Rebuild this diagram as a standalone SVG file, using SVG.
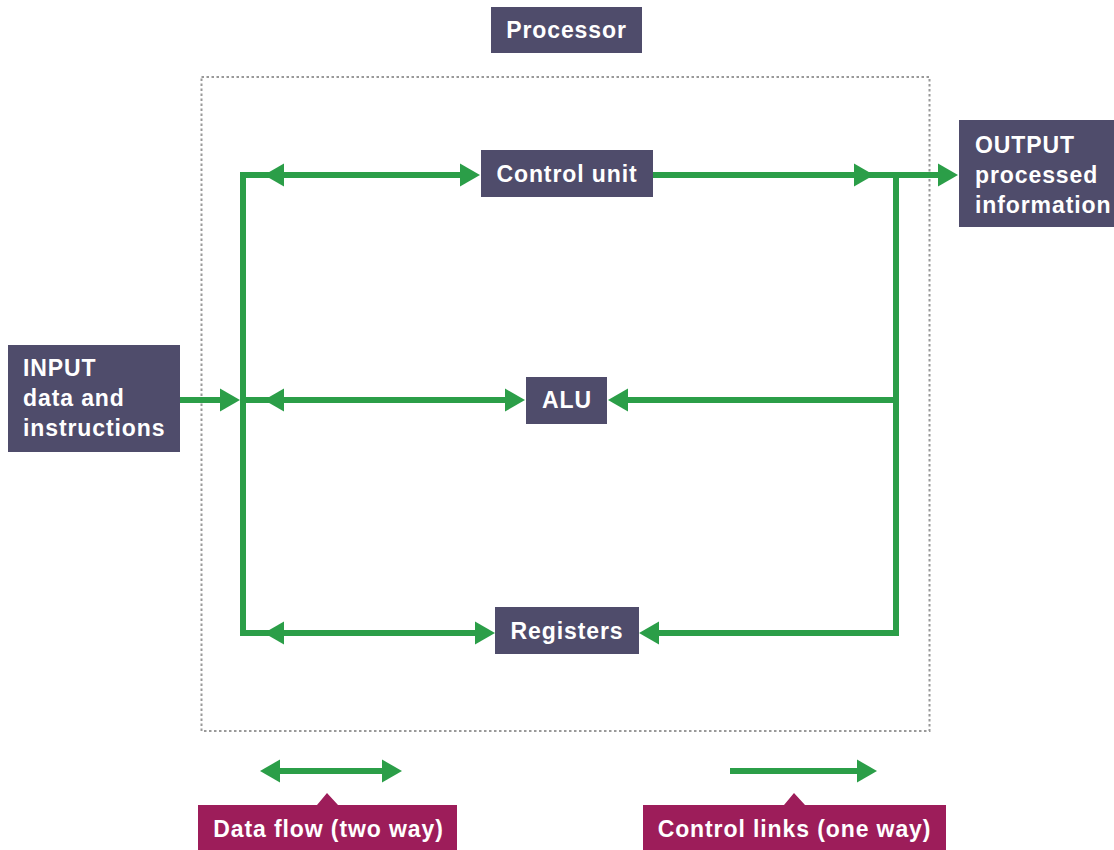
<svg xmlns="http://www.w3.org/2000/svg" xmlns:xlink="http://www.w3.org/1999/xlink" width="1114" height="850" viewBox="0 0 1114 850">
<style>
.box{fill:#4f4c6b}
.leg{fill:#9d1d5a}
.t{font-family:"Liberation Sans",Arial,sans-serif;font-weight:bold;font-size:23px;fill:#ffffff;letter-spacing:0.9px}
.c{text-anchor:middle}
.ln{fill:none;stroke:#2b9e48;stroke-width:6;stroke-linejoin:miter}
.ah{fill:#2b9e48}
.dot{fill:none;stroke:#999999;stroke-width:2;stroke-dasharray:2.5 2.5}
</style>
<defs>
<path id="ah" d="M0,0 L-20,-11.5 L-20,11.5 Z"/>
</defs>
<rect class="dot" x="201.5" y="77" width="728" height="654"/>
<g id="processor"><rect class="box" x="491" y="7" width="151" height="46"/><text class="t c" x="566.5" y="38">Processor</text></g>
<g id="control-unit"><rect class="box" x="481" y="150" width="172" height="47"/><text class="t c" x="567" y="182">Control unit</text></g>
<g id="alu"><rect class="box" x="526" y="377" width="81" height="47"/><text class="t c" x="567" y="408">ALU</text></g>
<g id="registers"><rect class="box" x="495" y="607" width="144" height="47"/><text class="t c" x="567" y="639">Registers</text></g>
<g id="input"><rect class="box" x="8" y="345" width="172" height="107"/><text class="t" x="23" y="376">INPUT</text><text class="t" x="23" y="406">data and</text><text class="t" x="23" y="436">instructions</text></g>
<g id="output"><rect class="box" x="959" y="120" width="160" height="107"/><text class="t" x="975" y="153">OUTPUT</text><text class="t" x="975" y="183">processed</text><text class="t" x="975" y="213">information</text></g>
<g id="connectors">
<path class="ln" d="M466,175 H243 V633 H481"/>
<path class="ln" d="M243,400 H511"/>
<path class="ln" d="M180,400 H226"/>
<path class="ln" d="M653,175 H944"/>
<path class="ln" d="M896,175 V633 H653"/>
<path class="ln" d="M896,400 H622"/>
<use class="ah" xlink:href="#ah" transform="translate(480,175)"/>
<use class="ah" xlink:href="#ah" transform="translate(264,175) rotate(180)"/>
<use class="ah" xlink:href="#ah" transform="translate(525,400)"/>
<use class="ah" xlink:href="#ah" transform="translate(264,400) rotate(180)"/>
<use class="ah" xlink:href="#ah" transform="translate(240,400)"/>
<use class="ah" xlink:href="#ah" transform="translate(495,633)"/>
<use class="ah" xlink:href="#ah" transform="translate(264,633) rotate(180)"/>
<use class="ah" xlink:href="#ah" transform="translate(874,175)"/>
<use class="ah" xlink:href="#ah" transform="translate(958,175)"/>
<use class="ah" xlink:href="#ah" transform="translate(608,400) rotate(180)"/>
<use class="ah" xlink:href="#ah" transform="translate(639,633) rotate(180)"/>
</g>
<g id="legend-data-flow">
<path class="ln" d="M275,771 H388"/>
<use class="ah" xlink:href="#ah" transform="translate(402,771)"/>
<use class="ah" xlink:href="#ah" transform="translate(260,771) rotate(180)"/>
<path class="leg" d="M198,805 H317 L327,793 L338,805 H457 V850 H198 Z"/>
<text class="t c" x="328.5" y="837">Data flow (two way)</text>
</g>
<g id="legend-control-links">
<path class="ln" d="M730,771 H862"/>
<use class="ah" xlink:href="#ah" transform="translate(877,771)"/>
<path class="leg" d="M643,805 H784 L794,793 L805,805 H946 V850 H643 Z"/>
<text class="t c" x="794.5" y="837">Control links (one way)</text>
</g>
</svg>
